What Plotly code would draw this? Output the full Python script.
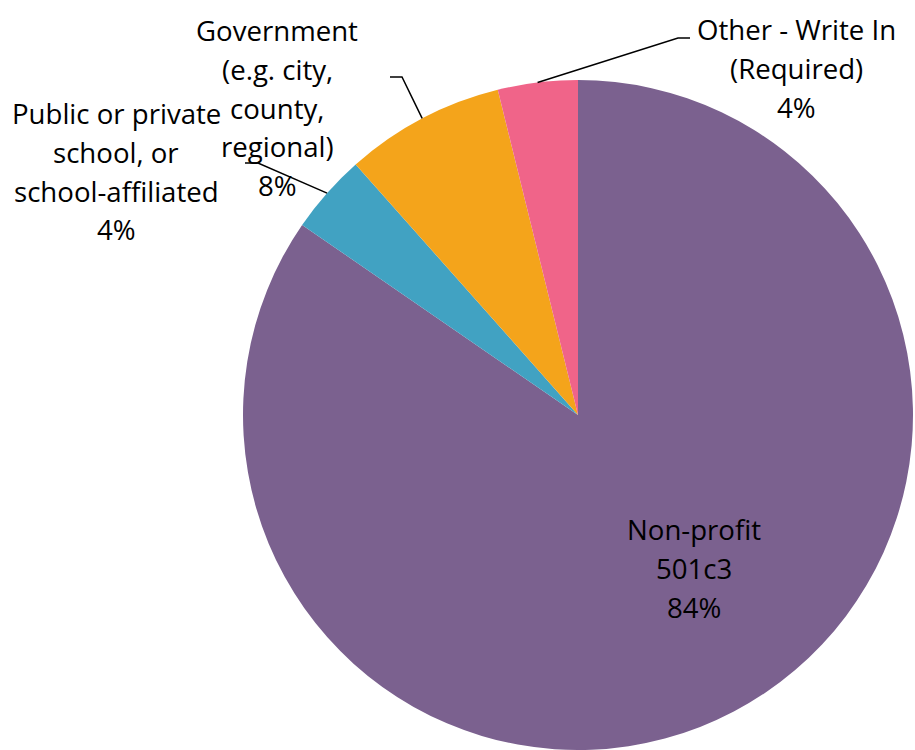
import math
import plotly.graph_objects as go

# ---- data ----
categories = ["Non-profit 501c3", "Public or private school, or school-affiliated",
              "Government (e.g. city, county, regional)", "Other - Write In (Required)"]
values = [84.6, 3.85, 7.7, 3.85]
pct_labels = ["84%", "4%", "8%", "4%"]
label_lines = [
    ["Non-profit", "501c3"],
    ["Public or private", "school, or", "school-affiliated"],
    ["Government", "(e.g. city,", "county,", "regional)"],
    ["Other - Write In", "(Required)"],
]
colors = ["#7B618F", "#41A2C2", "#F4A41B", "#F06489"]

W, H = 915, 750
CX, CY, R = 578, 415, 335  # pie centre / radius in px

fig = go.Figure(go.Pie(
    labels=categories, values=values, sort=False, direction="clockwise", rotation=0,
    marker=dict(colors=colors, line=dict(width=0)),
    textinfo="none", hoverinfo="label+percent", showlegend=False,
    domain=dict(x=[(CX - R) / W, (CX + R) / W], y=[(H - CY - R) / H, (H - CY + R) / H]),
))

def px(x):
    return x / W

def py(y):
    return 1 - y / H

# label placement (centre x, first line centre y) in px
label_pos = [(694, 529), (116, 113), (277, 30), (796, 29)]
elbows = [None, [(258, 163), (245, 163)], [(402, 77), (390, 77)], [(678, 38), (690, 38)]]
spacing = 38.8
font = dict(family="Open Sans", size=27.6, color="#000000")

total = sum(values)
cum = 0
for i, v in enumerate(values):
    mid = (cum + v / 2) / total * 2 * math.pi
    cum += v
    lines = label_lines[i] + [pct_labels[i]]
    x0, y0 = label_pos[i]
    for k, t in enumerate(lines):
        fig.add_annotation(x=px(x0), y=py(y0 + k * spacing), xref="paper", yref="paper",
                           text=t, showarrow=False, font=font, xanchor="center", yanchor="middle")
    if elbows[i]:
        sx = CX + R * math.sin(mid)
        sy = CY - R * math.cos(mid)
        pts = [(sx, sy)] + elbows[i]
        path = "M " + " L ".join(f"{px(a):.5f},{py(b):.5f}" for a, b in pts)
        fig.add_shape(type="path", path=path, xref="paper", yref="paper",
                      line=dict(color="#000000", width=1.5))

fig.update_layout(width=W, height=H, margin=dict(l=0, r=0, t=0, b=0),
                  paper_bgcolor="white", plot_bgcolor="white")
fig.write_html("out.html", config={"displayModeBar": False},
               post_script="document.body.style.margin='0';document.body.style.overflow='hidden';")
